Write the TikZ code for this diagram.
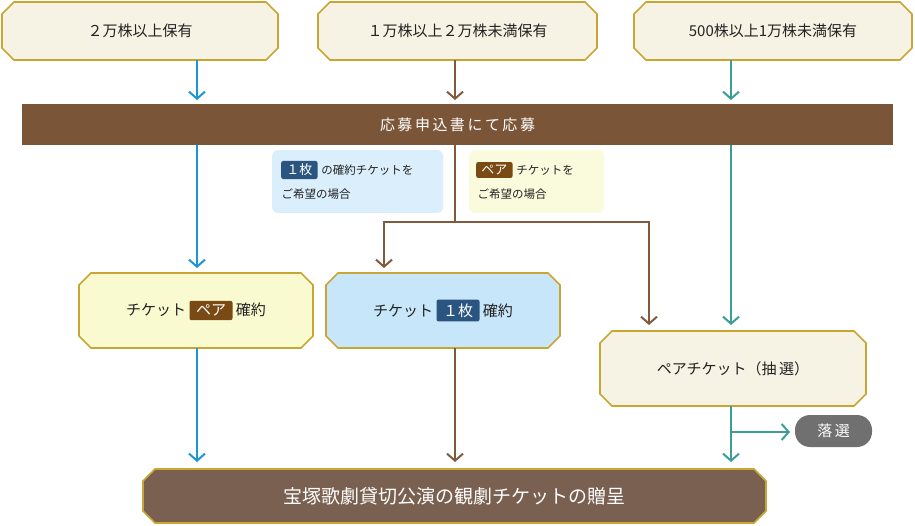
\documentclass[tikz,border=0pt]{standalone}
\usepackage{fontspec}
\setmainfont{Noto Sans CJK JP}
\usetikzlibrary{arrows.meta}
\definecolor{gold}{HTML}{C9A632}
\definecolor{bar}{HTML}{7B5538}
\definecolor{cblue}{HTML}{1A96D2}
\definecolor{cbrown}{HTML}{7F5A3C}
\definecolor{cteal}{HTML}{3A9E96}
\definecolor{navy}{HTML}{2A5580}
\definecolor{badgebrown}{HTML}{7A4A14}
\definecolor{txt}{HTML}{222222}
\definecolor{cream}{HTML}{F7F3E4}
\tikzset{
 oct/.style={draw=gold,line width=1.6pt},
 lbl/.style={font=\fontsize{15}{17}\selectfont,text=txt},
 sml/.style={font=\fontsize{11.5}{13}\selectfont,text=txt},
 arr/.style={line width=2pt,-{Straight Barb[length=7pt,width=16pt,line width=2pt]}},
 ln/.style={line width=2pt},
 badge/.style={rounded corners=2pt,text=white,inner sep=3pt,font=\fontsize{13}{15}\selectfont}
}
\newcommand{\octbox}[6]{% x1 y1 x2 y2 fill name
 \fill[#5] (#1+12,#2) -- (#3-12,#2) -- (#3,#2+12) -- (#3,#4-12) -- (#3-12,#4) -- (#1+12,#4) -- (#1,#4-12) -- (#1,#2+12) -- cycle;
 \draw[oct] (#1+12,#2) -- (#3-12,#2) -- (#3,#2+12) -- (#3,#4-12) -- (#3-12,#4) -- (#1+12,#4) -- (#1,#4-12) -- (#1,#2+12) -- cycle;
 \coordinate (#6) at ({(#1+#3)/2},{(#2+#4)/2});
}
\begin{document}
\begin{tikzpicture}[x=1pt,y=-1pt]
\useasboundingbox (0,0) rectangle (915,526);
\octbox{2}{2}{278}{60}{{fill=cream}}{t1}
\octbox{318}{2}{597}{60}{{fill=cream}}{t2}
\octbox{634}{2}{912}{60}{{fill=cream}}{t3}
\node[lbl] (n1) at (t1) {２万株以上保有};
\node[lbl] (n2) at (t2) {１万株以上２万株未満保有};
\node[lbl] (n3) at (t3) {500株以上1万株未満保有};
\fill[bar] (22,104) rectangle (893,145);
\node[lbl,text=white] (bartext) at (457.5,124.5) {応\,募\,申\,込\,書\,に\,て\,応\,募};
\fill[fill={rgb,255:red,219;green,238;blue,251},rounded corners=6pt] (272,150) rectangle (443,213);
\node[badge,fill=navy,anchor=west] (b1) at (281,170) {\,１枚\,};
\node[sml,anchor=west] (l1a) at (b1.east) {の確約チケットを};
\node[sml,anchor=west] (l1b) at (278,194) {ご希望の場合};
\fill[fill={rgb,255:red,250;green,250;blue,220},rounded corners=6pt] (469,150) rectangle (604,213);
\node[badge,fill=badgebrown,anchor=west] (b2) at (476,170) {\,ペア\,};
\node[sml,anchor=west] (l2a) at (b2.east) {チケットを};
\node[sml,anchor=west] (l2b) at (474,194) {ご希望の場合};
\octbox{79}{273}{313}{348}{{fill={rgb,255:red,250;green,250;blue,208}}}{m1}
\octbox{326}{273}{560}{348}{{fill={rgb,255:red,200;green,230;blue,250}}}{m2}
\octbox{600}{331}{866}{406}{{fill=cream}}{m3}
\node[lbl] (m1t) at (m1) {チケット\ \tikz[baseline=(x.base)]\node[badge,fill=badgebrown,font=\fontsize{15}{17}\selectfont,inner sep=4pt](x){\,ペア\,};\ 確約};
\node[lbl] (m2t) at (m2) {チケット\ \tikz[baseline=(x.base)]\node[badge,fill=navy,font=\fontsize{15}{17}\selectfont,inner sep=4pt](x){\,１枚\,};\ 確約};
\node[lbl] (m3t) at (m3) {ペアチケット（抽\,選）};
\fill[fill={rgb,255:red,112;green,112;blue,112},rounded corners=15pt] (795,415) rectangle (872,447);
\node[lbl,text=white] (rej) at (833.5,431) {落\,選};
\octbox{143}{469}{766}{523}{{fill={rgb,255:red,122;green,96;blue,80}}}{bt}
\node[lbl,text=white,font=\fontsize{19}{21}\selectfont] (btt) at (bt) {宝塚歌劇貸切公演の観劇チケットの贈呈};
% arrows
\coordinate (s1) at (197,60); \coordinate (s2) at (455,60); \coordinate (s3) at (731,60);
\coordinate (a1) at (197,100); \coordinate (a2) at (455,100); \coordinate (a3) at (731,100);
\coordinate (j) at (455,222); \coordinate (k) at (731,432); \coordinate (r) at (790,432);
\draw[arr,cblue] (s1) -- (a1);
\draw[arr,cbrown] (s2) -- (a2);
\draw[arr,cteal] (s3) -- (a3);
\draw[arr,cblue] (197,145) -- (197,268);
\draw[ln,cbrown] (455,145) -- (j);
\draw[arr,cbrown] (j) -- (384,222) -- (384,268);
\draw[arr,cbrown] (j) -- (649,222) -- (649,325);
\draw[arr,cteal] (731,145) -- (731,325);
\draw[arr,cblue] (197,348) -- (197,462);
\draw[arr,cbrown] (455,348) -- (455,462);
\draw[arr,cteal] (731,406) -- (731,462);
\draw[arr,cteal] (k) -- (r);
\end{tikzpicture}
\end{document}
